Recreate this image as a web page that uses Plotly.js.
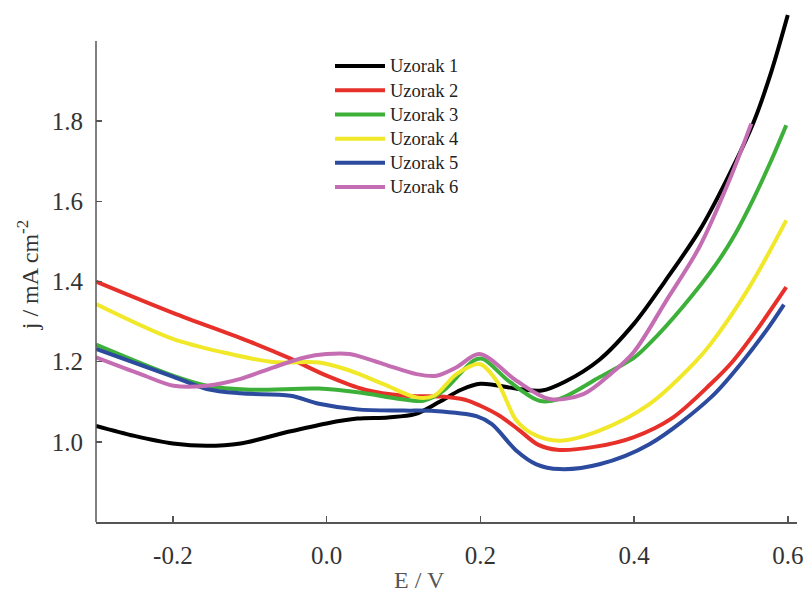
<!DOCTYPE html>
<html>
<head>
<meta charset="utf-8">
<script src="https://cdn.plot.ly/plotly-3.0.1.min.js"></script>
<style>html,body{margin:0;padding:0;background:#fff;}#chart{width:810px;height:599px;}</style>
</head>
<body>
<div id="chart"></div>
<script>
const seriesNames = ["Uzorak 1","Uzorak 2","Uzorak 3","Uzorak 4","Uzorak 5","Uzorak 6"];
const seriesColors = ["#000000","#e8302a","#3db03a","#f0e828","#2c4b9e","#c46db2"];

const e1 = [-0.3,-0.25,-0.2,-0.156,-0.112,-0.05,0.0,0.04,0.08,0.115,0.147,0.175,0.2,0.25,0.28,0.31,0.355,0.4,0.44,0.485,0.52,0.555,0.578,0.6];
const j1 = [1.04,1.015,0.996,0.99,0.996,1.025,1.046,1.058,1.061,1.069,1.10,1.13,1.145,1.132,1.128,1.15,1.205,1.295,1.40,1.527,1.652,1.795,1.92,2.065];

const e2 = [-0.3,-0.2,-0.1,-0.05,0.0,0.05,0.1,0.15,0.18,0.2,0.225,0.25,0.275,0.3,0.35,0.4,0.45,0.5,0.528,0.559,0.598];
const j2 = [1.40,1.322,1.25,1.21,1.165,1.13,1.115,1.113,1.105,1.09,1.065,1.03,0.993,0.98,0.988,1.012,1.06,1.145,1.20,1.2775,1.386];

const e3 = [-0.3,-0.2,-0.156,-0.1,-0.01,0.043,0.095,0.126,0.152,0.191,0.203,0.238,0.277,0.303,0.355,0.4,0.42,0.463,0.507,0.532,0.555,0.578,0.598];
const j3 = [1.2425,1.165,1.14,1.13,1.133,1.123,1.107,1.1025,1.1275,1.2025,1.207,1.15,1.1025,1.107,1.161,1.21,1.245,1.336,1.444,1.52,1.605,1.70,1.79];

const e4 = [-0.3,-0.2,-0.134,-0.07,-0.01,0.03,0.074,0.117,0.14,0.169,0.199,0.222,0.247,0.269,0.303,0.355,0.42,0.48,0.5,0.55,0.598];
const j4 = [1.344,1.257,1.223,1.199,1.198,1.178,1.144,1.111,1.115,1.169,1.194,1.15,1.053,1.019,1.003,1.028,1.094,1.2,1.245,1.386,1.5525];

const e5 = [-0.3,-0.2,-0.156,-0.112,-0.047,-0.01,0.04,0.1,0.14,0.195,0.215,0.247,0.273,0.303,0.355,0.42,0.5,0.541,0.572,0.595];
const j5 = [1.232,1.163,1.132,1.121,1.115,1.095,1.081,1.078,1.077,1.064,1.044,0.978,0.944,0.932,0.944,0.994,1.111,1.20,1.2775,1.3425];

const e6 = [-0.3,-0.242,-0.199,-0.156,-0.112,-0.069,-0.03,0.0,0.03,0.074,0.117,0.143,0.169,0.199,0.247,0.29,0.334,0.37,0.4,0.442,0.485,0.524,0.5525];
const j6 = [1.211,1.169,1.14,1.14,1.157,1.186,1.21,1.219,1.219,1.194,1.169,1.165,1.186,1.219,1.1525,1.107,1.119,1.17,1.225,1.3525,1.486,1.6525,1.794];

const xTickVals = [-0.2,0.0,0.2,0.4,0.6];
const xTickText = ["-0.2","0.0","0.2","0.4","0.6"];
const yTickVals = [1.0,1.2,1.4,1.6,1.8];
const yTickText = ["1.0","1.2","1.4","1.6","1.8"];

const xs = [e1,e2,e3,e4,e5,e6];
const ys = [j1,j2,j3,j4,j5,j6];

const FONT = "Times New Roman, Liberation Serif, DejaVu Serif, serif";

const traces = seriesNames.map((n,i)=>({
  type:'scatter', mode:'lines', x:xs[i], y:ys[i],
  name:'<span style="font-size:18.5px">' + n + '</span>',
  line:{color:seriesColors[i], width:4, shape:'spline', smoothing:0.9}
}));

const layout = {
  width:810, height:599,
  margin:{l:96, r:13, t:9, b:77},
  paper_bgcolor:'#fff', plot_bgcolor:'#fff',
  font:{family:FONT, color:'#333'},
  showlegend:true,
  legend:{x:0.3338, y:0.922, xanchor:'left', yanchor:'top', bgcolor:'rgba(0,0,0,0)',
    itemwidth:50,
    font:{family:FONT, size:16.3, color:'#222'}, tracegroupgap:0},
  xaxis:{range:[-0.3,0.612], showgrid:false, zeroline:false, showline:true,
    linecolor:'#555', linewidth:1.5, ticks:'inside', ticklen:6, tickwidth:1.5, tickcolor:'#555',
    tickvals:xTickVals, ticktext:xTickText, ticklabelstandoff:10,
    tickfont:{family:FONT, size:25, color:'#333'}},
  yaxis:{range:[0.8,2.08], showgrid:false, zeroline:false, showline:false,
    ticks:'inside', ticklen:6, tickwidth:1.5, tickcolor:'#555',
    tickvals:yTickVals, ticktext:yTickText, ticklabelstandoff:12,
    tickfont:{family:FONT, size:25, color:'#333'}},
  shapes:[{type:'line', xref:'paper', x0:0, x1:0, yref:'y', y0:0.8, y1:2.0,
    line:{color:'#555', width:1.5}}],
  annotations:[
    {text:'E / V', xref:'paper', yref:'paper', x:0.462, y:-0.113, xanchor:'center', yanchor:'middle',
      showarrow:false, font:{family:FONT, size:24, color:'#555'}},
    {text:'j / mA cm<sup>-2</sup>', xref:'paper', yref:'paper', x:-0.097, y:0.481, xanchor:'center', yanchor:'middle',
      textangle:-90, showarrow:false, font:{family:FONT, size:24, color:'#333'}}
  ]
};

Plotly.newPlot('chart', traces, layout, {displayModeBar:false, staticPlot:true});
</script>
</body>
</html>
